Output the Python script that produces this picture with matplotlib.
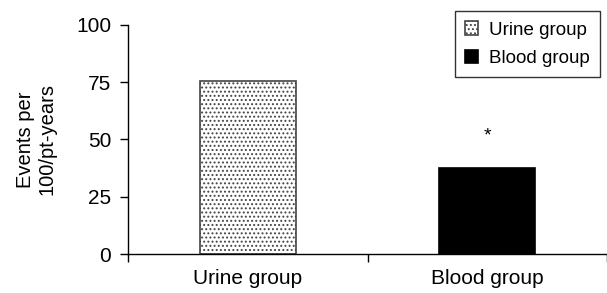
import matplotlib.pyplot as plt
import matplotlib as mpl

mpl.rcParams['font.family'] = ['Liberation Sans', 'DejaVu Sans']
mpl.rcParams['hatch.linewidth'] = 0.9

groups = ['Urine group', 'Blood group']
events = [75.5, 37.5]
yticks = [0, 25, 50, 75, 100]

fig = plt.figure(figsize=(6.07, 2.93), dpi=100)
ax = fig.add_axes([0.2109, 0.1331, 0.7891, 0.7816])

ax.bar(0, events[0], width=0.4, color='white', edgecolor='#444444',
       hatch='....', linewidth=1.2, label=groups[0])
ax.bar(1, events[1], width=0.4, color='black', edgecolor='black',
       linewidth=1.2, label=groups[1])

ax.text(1, events[1] + 14, '*', ha='center', va='center', fontsize=14)

ax.set_xlim(-0.5, 1.455)
ax.set_ylim(0, 100)
ax.set_yticks(yticks)
ax.set_xticks([0, 1])
ax.set_xticklabels(groups)
ax.set_xticks([-0.5, 0.5, 1.5], minor=True)
ax.tick_params(axis='x', which='major', length=0, pad=11, labelsize=15)
ax.tick_params(axis='x', which='minor', length=6, width=1, direction='out')
ax.tick_params(axis='y', length=6, width=1, labelsize=15, pad=6)
for s in ['top', 'right']:
    ax.spines[s].set_visible(False)
ax.spines['left'].set_linewidth(1)
ax.spines['bottom'].set_linewidth(1)

ax.set_ylabel('Events per\n100/pt-years', fontsize=14.5, labelpad=14, linespacing=1.2)

leg = ax.legend(loc='upper right', bbox_to_anchor=(0.998, 1.085), fancybox=False,
                edgecolor='black', fontsize=13.5, handlelength=0.7, handleheight=0.7,
                handletextpad=0.6, borderpad=0.55, borderaxespad=0.3,
                labelspacing=0.6)
leg.get_frame().set_linewidth(1)

fig.savefig('out.png', dpi=100)
